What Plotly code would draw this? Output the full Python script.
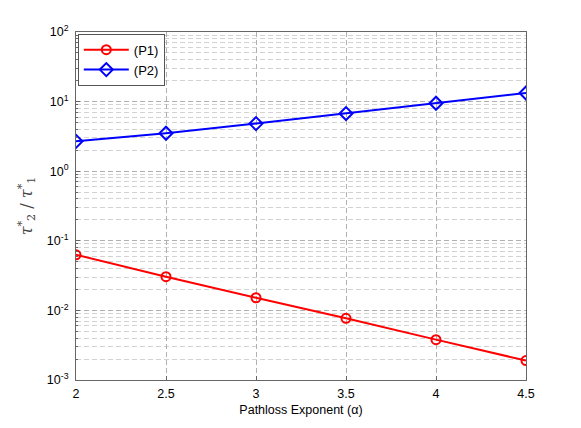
import plotly.graph_objects as go

# data
alpha = [2, 2.5, 3, 3.5, 4, 4.5]
p1_ratio = [0.063, 0.0305, 0.0152, 0.0077, 0.0038, 0.0019]
p2_ratio = [2.69, 3.51, 4.83, 6.73, 9.46, 13.3]

y_major = [1e-3, 1e-2, 1e-1, 1, 10, 100]
y_major_text = ["10<sup>-3</sup>", "10<sup>-2</sup>", "10<sup>-1</sup>",
                "10<sup>0</sup>", "10<sup>1</sup>", "10<sup>2</sup>"]
x_ticks = [2, 2.5, 3, 3.5, 4, 4.5]

# minor grid: 2..9 within each decade
y_minor = [m * d for d in [1e-3, 1e-2, 1e-1, 1, 10] for m in range(2, 10)]

fig = go.Figure()
fig.add_trace(go.Scatter(
    x=alpha, y=p1_ratio, name="(P1)", mode="lines+markers",
    line=dict(color="#ff0000", width=2),
    marker=dict(symbol="circle-open", size=9, color="#ff0000", line=dict(width=2))
))
fig.add_trace(go.Scatter(
    x=alpha, y=p2_ratio, name="(P2)", mode="lines+markers",
    line=dict(color="#0000ff", width=2),
    marker=dict(symbol="diamond-open", size=10, color="#0000ff", line=dict(width=2))
))

major_col = "#b0b0b0"
minor_col = "#d2d2d2"
dash = "5px,3px"
# page body adds an 8px offset, so margins are shifted to compensate
fig.update_layout(
    width=581, height=428,
    margin=dict(l=68, r=63, t=24, b=56),
    paper_bgcolor="white", plot_bgcolor="white",
    font=dict(family="Liberation Sans, Arial", size=12, color="#000"),
    showlegend=True,
    legend=dict(x=0.004, y=0.995, xanchor="left", yanchor="top",
                bgcolor="white", bordercolor="#555", borderwidth=1,
                font=dict(size=13), itemwidth=45, tracegroupgap=0),
    xaxis=dict(
        range=[2, 4.5], tickvals=x_ticks, ticktext=[str(v) for v in x_ticks],
        showgrid=True, gridcolor=major_col, griddash=dash, gridwidth=1,
        showline=True, linecolor="#666", mirror=True, linewidth=1,
        ticks="inside", ticklen=4, tickcolor="#666", zeroline=False,
        tickfont=dict(size=12.5), ticklabelstandoff=2,
        title=dict(text="Pathloss Exponent (α)", standoff=5, font=dict(size=12.5))
    ),
    yaxis=dict(
        type="log", range=[-3, 2], tickvals=y_major, ticktext=y_major_text,
        showgrid=True, gridcolor=major_col, griddash=dash, gridwidth=1,
        showline=True, linecolor="#666", mirror=True, linewidth=1,
        ticks="inside", ticklen=4, tickcolor="#666", zeroline=False,
        tickfont=dict(size=12.5), ticklabelstandoff=4,
        minor=dict(tickvals=y_minor, showgrid=True, gridcolor=minor_col,
                   griddash=dash, ticks="inside", ticklen=2, tickcolor="#666"),
        title=dict(text="<i>τ</i><sup>*</sup><sub>2</sub> / <i>τ</i><sup>*</sup><sub>1</sub>",
                   standoff=10, font=dict(size=16, family="DejaVu Serif", color="#444"))
    ),
)

fig.write_html("out.html")
